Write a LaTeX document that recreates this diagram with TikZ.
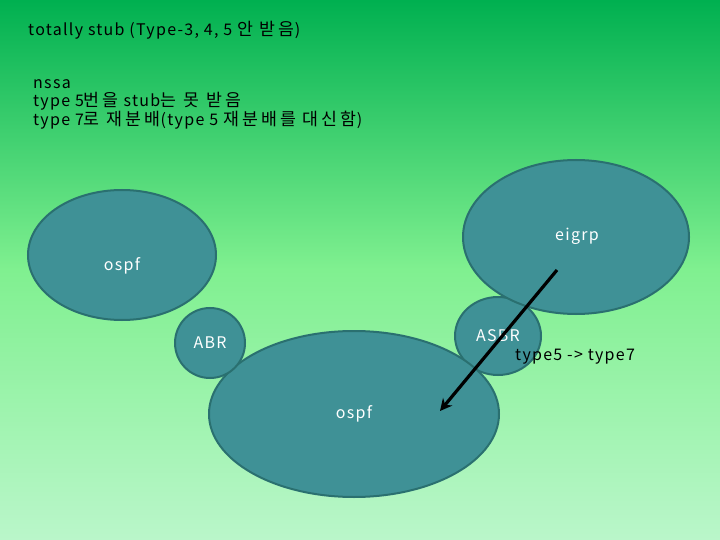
\documentclass[tikz,border=0pt]{standalone}
\usepackage{fontspec}
\setmainfont[LetterSpace=8]{Noto Sans CJK KR}
\newfontfamily\kofont[LetterSpace=18,Scale=1.08]{Noto Sans CJK KR}
\newcommand{\ko}[1]{{\kofont #1}}
\usetikzlibrary{shapes.geometric,arrows.meta}
\begin{document}
\begin{tikzpicture}[x=1pt,y=-1pt,
  area/.style={ellipse, draw=areaborder, line width=2pt, fill=areafill, inner sep=0pt, text=white, font=\fontsize{16}{18}\selectfont},
  lbl/.style={text=white, inner sep=0pt, font=\fontsize{16}{18}\selectfont},
  note/.style={anchor=west, inner sep=0pt, font=\fontsize{16}{18}\selectfont, text=black}]
\definecolor{areafill}{RGB}{63,145,150}
\definecolor{areaborder}{RGB}{42,112,112}
\definecolor{bgtop}{RGB}{0,176,80}
\definecolor{bgmid}{RGB}{128,240,144}
\definecolor{bgbot}{RGB}{186,246,202}
\useasboundingbox (0,0) rectangle (720,540);
\shade[top color=bgtop, bottom color=bgmid] (0,0) rectangle (720,270);
\shade[top color=bgmid, bottom color=bgbot] (0,270) rectangle (720,540);

\node[note] (t1) at (28,30) {totally stub (Type-3, 4, 5 \ko{안 받음})};
\node[note, align=left, anchor=north west] (t2) at (33,79) {nssa\\type 5\ko{번을} stub\ko{는 못 받음}\\type 7\ko{로 재분배}(type 5 \ko{재분배를 대신함})};

\node[area, minimum width=188pt, minimum height=130pt] (ospf1) at (122,255) {};
\node[lbl] (l1) at (122,266) {ospf};
\node[area, minimum width=86pt, minimum height=78pt] (asbr) at (498,336) {ASBR};
\node[area, minimum width=226pt, minimum height=154pt] (eigrp) at (576,237) {};
\node[lbl] (l2) at (577,236) {eigrp};
\node[area, minimum width=290pt, minimum height=166pt] (ospf2) at (354,414) {};
\node[lbl] (l3) at (354,414) {ospf};
\node[area, minimum width=70pt, minimum height=70pt] (abr) at (210,343) {ABR};

\coordinate (a1) at (557,270);
\coordinate (a2) at (440,411);
\draw[line width=3.2pt, -{Stealth[length=12pt,width=12pt]}] (a1) -- (a2);

\node[note] (t3) at (515,357) {type5 -> type7};
\end{tikzpicture}
\end{document}
